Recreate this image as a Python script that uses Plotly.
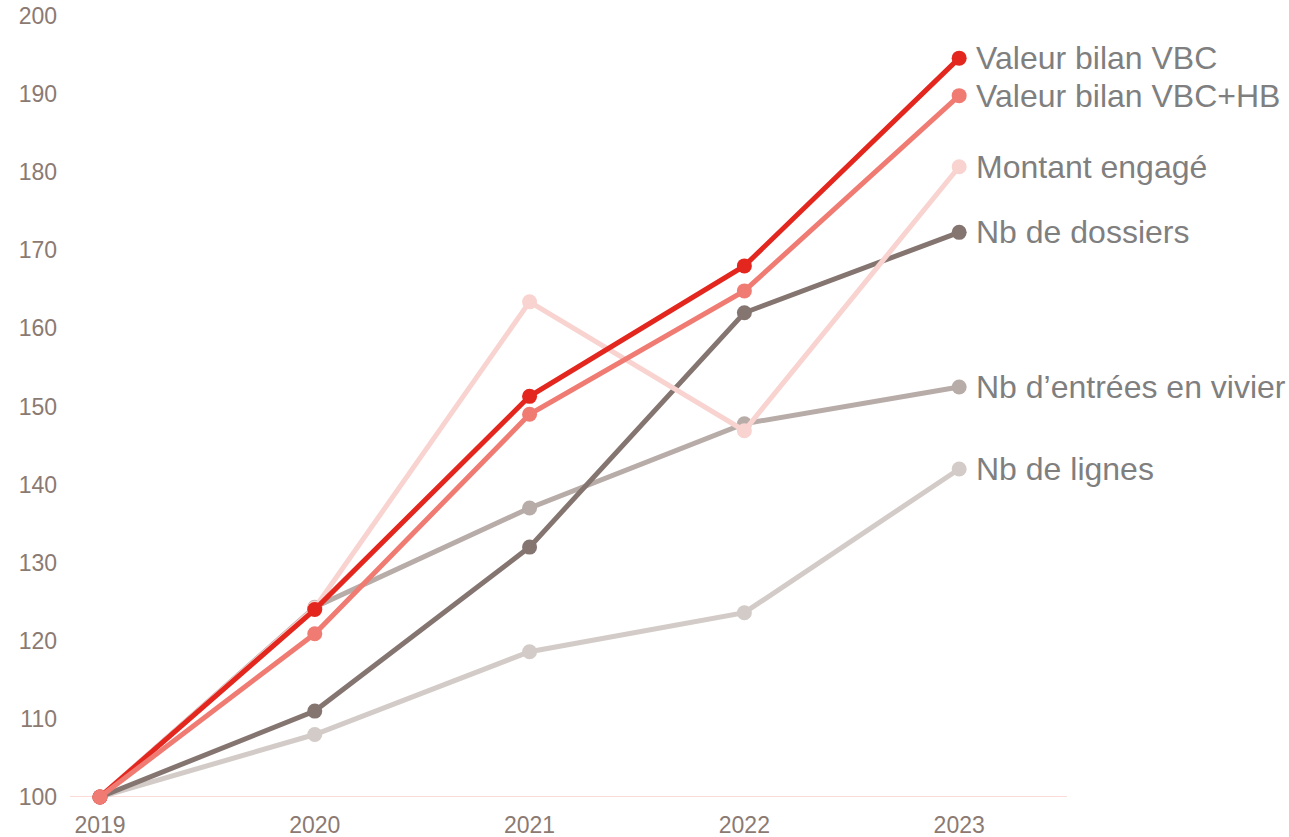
import plotly.graph_objects as go

years = ["2019", "2020", "2021", "2022", "2023"]
series_names = ["Nb de lignes", "Nb d\u2019entrées en vivier", "Nb de dossiers",
                "Montant engagé", "Valeur bilan VBC", "Valeur bilan VBC+HB"]
nb_lignes = [100, 108, 118.6, 123.6, 142]
nb_entrees = [100, 124.3, 137, 147.8, 152.5]
nb_dossiers = [100, 111, 132, 162, 172.3]
montant_engage = [100, 124.2, 163.4, 146.9, 180.7]
valeur_vbc = [100, 124, 151.3, 168, 194.6]
valeur_vbc_hb = [100, 120.9, 149, 164.8, 189.8]
colors = ["#D3CBC7", "#B8ACA8", "#857570", "#F8D3D0", "#E3261E", "#F07B73"]
values = [nb_lignes, nb_entrees, nb_dossiers, montant_engage, valeur_vbc, valeur_vbc_hb]

xs = list(range(len(years)))
fig = go.Figure()
for name, vals, col in zip(series_names, values, colors):
    fig.add_trace(go.Scatter(
        x=xs, y=vals, name=name, mode="lines+markers",
        line=dict(color=col, width=5), marker=dict(color=col, size=15),
        cliponaxis=False, showlegend=False))
    fig.add_annotation(x=xs[-1], y=vals[-1], text=name, showarrow=False,
                       xanchor="left", yanchor="middle", xshift=15,
                       font=dict(family="Liberation Sans, Arial", size=32, color="#7F7F7F"))

fig.update_layout(
    width=1289, height=837, paper_bgcolor="white", plot_bgcolor="white",
    margin=dict(l=70, r=222, t=16, b=40),
    font=dict(family="Liberation Sans, Arial", size=23, color="#8B7A72"),
)
fig.update_xaxes(range=[-0.1395, 4.502], tickvals=xs, ticktext=years, showgrid=False,
                 zeroline=False, showline=False, ticks="", ticklabelstandoff=12,
                 automargin=False, tickfont=dict(size=23, color="#8B7A72"))
fig.update_yaxes(range=[100, 200], dtick=10, showgrid=False, zeroline=False,
                 showline=False, ticks="", ticklabelstandoff=12, automargin=False,
                 ticklabeloverflow="allow", tickfont=dict(size=23, color="#8B7A72"))
fig.add_shape(type="line", xref="paper", yref="y", x0=0, x1=1, y0=100, y1=100,
              line=dict(color="#FADBD8", width=2), layer="below")
fig.write_html("out.html", config={"displayModeBar": False},
               post_script="document.body.style.margin='0';document.body.style.overflow='hidden';")
